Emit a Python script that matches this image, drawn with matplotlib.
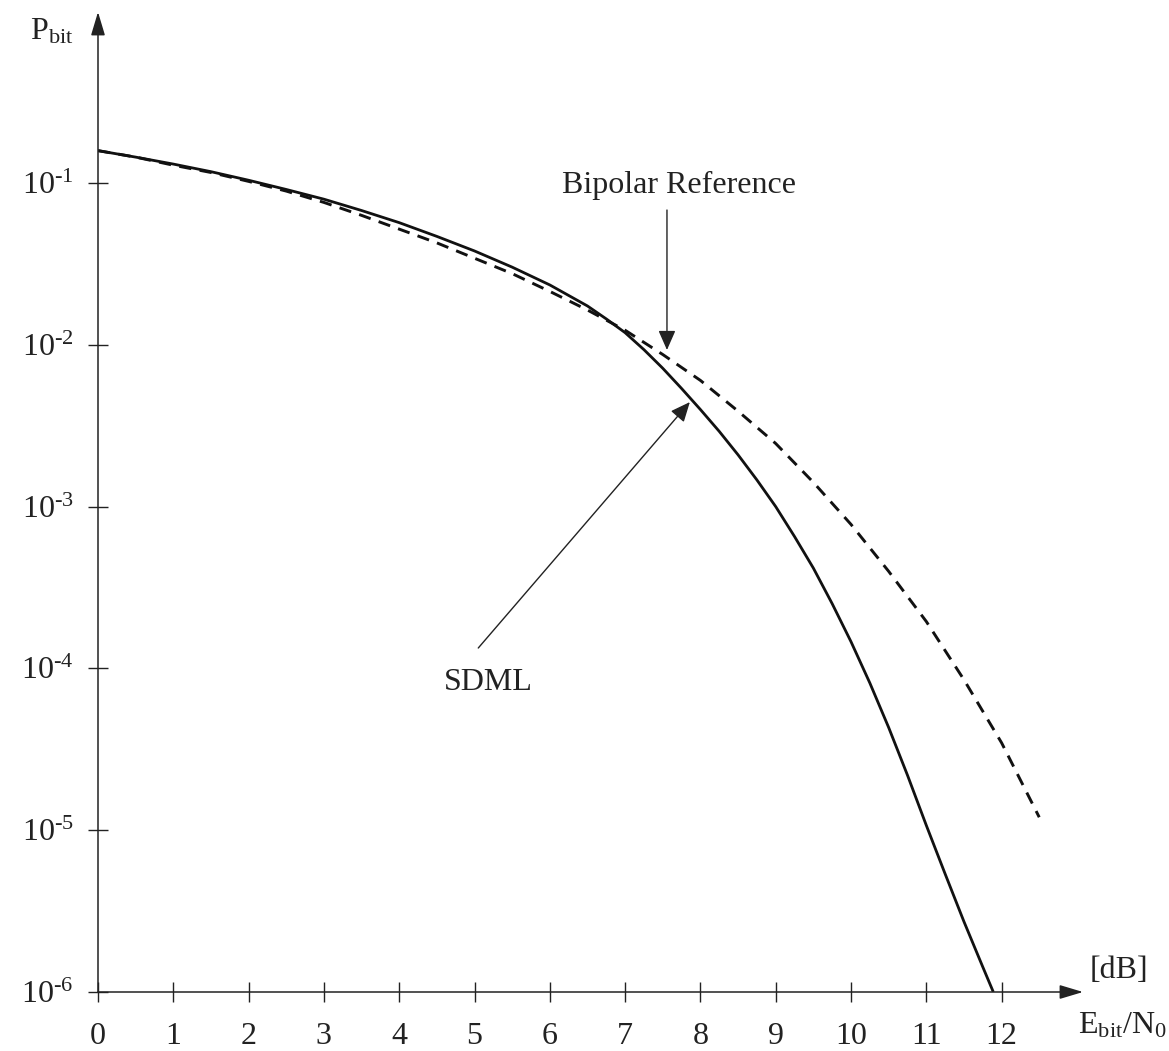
import numpy as np
import matplotlib
matplotlib.use("Agg")
import matplotlib.pyplot as plt

# ---- data ----
ebn0_dashed = [0, 0.5, 1, 1.5, 2, 2.5, 3, 3.5, 4, 4.5, 5, 5.5, 6, 6.5, 7, 7.5,
               8, 8.5, 9, 9.5, 10, 10.5, 11, 11.5, 12, 12.5]
log_pbit_dashed = [-0.80, -0.84, -0.89, -0.935, -0.99, -1.05, -1.12, -1.20, -1.285,
                   -1.37, -1.465, -1.56, -1.67, -1.785, -1.91, -2.06, -2.22, -2.41,
                   -2.61, -2.85, -3.11, -3.40, -3.71, -4.07, -4.46, -4.92]

ebn0_solid = [0, 0.5, 1, 1.5, 2, 2.5, 3, 3.5, 4, 4.5, 5, 5.5, 6, 6.5, 6.75,
              7, 7.25, 7.5, 7.75, 8, 8.25, 8.5, 8.75, 9, 9.25, 9.5, 9.75,
              10, 10.25, 10.5, 10.75, 11, 11.25, 11.5, 11.75, 11.89]
log_pbit_solid = [-0.80, -0.84, -0.883, -0.93, -0.983, -1.04, -1.10, -1.17, -1.245,
                  -1.33, -1.42, -1.52, -1.63, -1.76, -1.84,
                  -1.925, -2.03, -2.145, -2.27, -2.40, -2.535, -2.68, -2.835,
                  -3.00, -3.185, -3.38, -3.60, -3.835, -4.09, -4.365, -4.66,
                  -4.97, -5.27, -5.565, -5.845, -6.0]

xtick_values = list(range(0, 13))
ytick_exponents = [-1, -2, -3, -4, -5, -6]

label_bipolar = "Bipolar Reference"
label_sdml = "SDML"

# ---- styling ----
plt.rcParams['font.family'] = ['Liberation Serif', 'DejaVu Serif']
plt.rcParams['mathtext.fontset'] = 'custom'
plt.rcParams['mathtext.rm'] = 'Liberation Serif'
plt.rcParams['mathtext.it'] = 'Liberation Serif:italic'

W, H = 1169, 1051
fig = plt.figure(figsize=(W / 100, H / 100), dpi=100)
fig.patch.set_facecolor('white')

x0_px, x_tip_px = 98, 1083
y0_px, y_tip_px = 992, 12
px_per_unit = 75.3
px_per_dec = 161.8
ax = fig.add_axes([x0_px / W, (H - y0_px) / H,
                   (x_tip_px - x0_px) / W, (y0_px - y_tip_px) / H])
ax.set_xlim(0, (x_tip_px - x0_px) / px_per_unit)
ax.set_yscale('log')
ax.set_ylim(1e-6, 10 ** (-6 + (y0_px - y_tip_px) / px_per_dec))
ax.set_facecolor('none')

for s in ax.spines.values():
    s.set_visible(False)

axis_col = '#222222'
# axis arrows
for tip in [(1, 0), (0, 1)]:
    ax.annotate('', xy=tip, xytext=(0, 0), xycoords='axes fraction',
                textcoords='axes fraction',
                arrowprops=dict(arrowstyle='-|>,head_length=0.6,head_width=0.18',
                                mutation_scale=24, lw=1.1, color=axis_col,
                                shrinkA=0, shrinkB=0))

# curves
ax.plot(ebn0_solid, [10 ** v for v in log_pbit_solid], color='#111111', lw=2.0,
        solid_capstyle='butt', solid_joinstyle='round')
ax.plot(ebn0_dashed, [10 ** v for v in log_pbit_dashed], color='#111111', lw=2.1,
        dashes=(4.2, 2.9))

# ticks
ax.set_xticks(xtick_values)
ax.set_xticklabels([str(v) for v in xtick_values])
ax.set_yticks([10.0 ** e for e in ytick_exponents])
ax.set_yticklabels([r'$\mathregular{10^{\text{-}%d}}$' % (-e) for e in ytick_exponents])
ax.yaxis.set_minor_locator(matplotlib.ticker.NullLocator())
ax.tick_params(axis='x', direction='inout', length=15, width=1.0, color=axis_col,
               pad=14, labelsize=23, labelcolor='#222222')
ax.tick_params(axis='y', direction='inout', length=15, width=1.0, color=axis_col,
               pad=10, labelsize=23, labelcolor='#222222')

# axis labels
fig.text(30 / W, 1 - 40 / H, r'$\mathregular{P_{bit}}$', fontsize=23,
         color='#222222', ha='left', va='baseline')
fig.text(1090 / W, 1 - 978 / H, '[dB]', fontsize=23, color='#222222',
         ha='left', va='baseline')
fig.text(1078 / W, 1 - 1034 / H, r'$\mathregular{E_{bit}/N_0}$', fontsize=23,
         color='#222222', ha='left', va='baseline')

# annotations
arrow_kw = dict(arrowstyle='-|>,head_length=0.5,head_width=0.22',
                mutation_scale=24, lw=1.0, color='#222222', shrinkA=0, shrinkB=0)
ax.annotate('', xy=(7.556, 10 ** -2.032), xytext=(7.556, 10 ** -1.167),
            arrowprops=arrow_kw)
ax.text(7.72, 10 ** -1.062, label_bipolar, fontsize=23, color='#222222',
        ha='center', va='baseline')
ax.annotate('', xy=(7.86, 10 ** -2.354), xytext=(5.05, 10 ** -3.874),
            arrowprops=arrow_kw)
ax.text(5.18, 10 ** -4.133, label_sdml, fontsize=23, color='#222222',
        ha='center', va='baseline')

fig.savefig('out.png', dpi=100, facecolor='white')
